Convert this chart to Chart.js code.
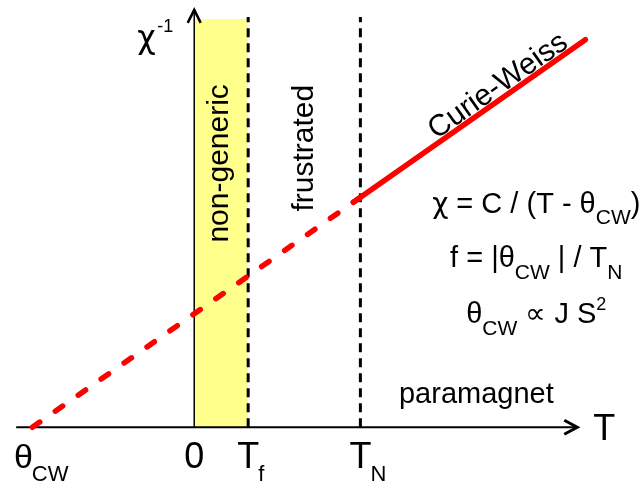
<!DOCTYPE html>
<html>
<head>
<meta charset="utf-8">
<script src="https://cdn.jsdelivr.net/npm/chart.js@4.4.1/dist/chart.umd.min.js"></script>
<style>
  html, body { margin: 0; padding: 0; background: #ffffff; }
  canvas { display: block; }
</style>
</head>
<body>
<canvas id="chart" width="642" height="484"></canvas>
<script>
// Characteristic temperatures on the T axis (arbitrary units)
const thetaCW = -30;
const tFreeze = 10;
const tNeel = 30.8;

// Extents of the drawn axes
const tAxisRange = [-33, 71];
const chiAxisTop = 110.4;
const bandTop = 108;
const markerTop = 108.5;

// Inverse susceptibility, extrapolated (dashed) and measured (solid) Curie-Weiss line
const cwExtrapT = [thetaCW, 30.8];
const cwExtrapChi = [0, 60.8];
const cwMeasuredT = [29.5, 72.5];
const cwMeasuredChi = [59.5, 102.5];

// Tick labels under the T axis
const tickValues = [thetaCW, 0, tFreeze, tNeel];
const tickMain = ['\u03B8', '0', 'T', 'T'];
const tickSub = ['CW', '', 'f', 'N'];

// Region names
const regionNames = ['non-generic', 'frustrated', 'paramagnet'];
const lineName = 'Curie-Weiss';

// Relations, written as runs of [text, 'n' | 'chi' | 'sub' | 'sup']
const relations = [
  [['\u03C7', 'chi'], [' = C / (T - \u03B8', 'n'], ['CW', 'sub'], [')', 'n']],
  [['f = |\u03B8', 'n'], ['CW', 'sub'], [' | / T', 'n'], ['N', 'sub']],
  [['\u03B8', 'n'], ['CW', 'sub'], [' \u221D J S', 'n'], ['2', 'sup']]
];

const FONT = '"Liberation Sans", Arial, Helvetica, sans-serif';
const GREEK = '"DejaVu Sans", "Liberation Sans", sans-serif';
const pts = (xs, ys) => xs.map((x, i) => ({ x: x, y: ys[i] }));

function font(size, fam) { return size + 'px ' + (fam || FONT); }

// Draws a run of normal / subscript / superscript pieces, centred on cx
function drawRuns(ctx, runs, cx, baseY, size) {
  const subSize = Math.round(size * 0.74);
  const supSize = Math.round(size * 0.62);
  const setFont = k => {
    if (k === 'n') ctx.font = font(size);
    else if (k === 'chi') ctx.font = font(size - 1, GREEK);
    else if (k === 'sub') ctx.font = font(subSize);
    else ctx.font = font(supSize);
  };
  const widths = runs.map(([t, k]) => { setFont(k); return ctx.measureText(t).width; });
  const total = widths.reduce((a, b) => a + b, 0);
  let x = cx - total / 2;
  runs.forEach(([t, k], i) => {
    setFont(k);
    const dy = k === 'sub' ? size * 0.4 : (k === 'sup' ? -size * 0.44 : 0);
    ctx.fillText(t, x, baseY + dy);
    x += widths[i];
  });
}

const annotations = {
  id: 'annotations',
  afterDatasetsDraw(chart) {
    const ctx = chart.ctx;
    const xs = chart.scales.x, ys = chart.scales.y;
    const px = v => xs.getPixelForValue(v);
    const py = v => ys.getPixelForValue(v);
    ctx.save();
    ctx.fillStyle = '#000';
    ctx.strokeStyle = '#000';

    // arrow heads
    ctx.lineWidth = 3;
    ctx.lineJoin = 'miter';
    const tx = px(tAxisRange[1]), ty = py(0);
    ctx.beginPath();
    ctx.moveTo(tx - 13, ty - 7);
    ctx.lineTo(tx, ty);
    ctx.lineTo(tx - 13, ty + 7);
    ctx.stroke();
    const cx0 = px(0), cy0 = py(chiAxisTop);
    ctx.lineWidth = 2.5;
    ctx.beginPath();
    ctx.moveTo(cx0 - 6.5, cy0 + 13);
    ctx.lineTo(cx0, cy0);
    ctx.lineTo(cx0 + 6.5, cy0 + 13);
    ctx.stroke();

    // axis titles
    ctx.textBaseline = 'alphabetic';
    ctx.textAlign = 'center';
    ctx.font = font(36);
    ctx.fillText('T', tx + 27, ty + 13);
    ctx.textAlign = 'left';
    ctx.font = font(32, GREEK);
    ctx.fillText('\u03C7', cx0 - 57, cy0 + 38);
    ctx.font = font(18);
    ctx.fillText('-1', cx0 - 37, cy0 + 22);

    // tick labels with subscripts
    tickValues.forEach((v, i) => {
      const main = tickMain[i];
      const size = main === '\u03B8' ? 34 : 36;
      const nudge = main === '\u03B8' ? -9 : 0;
      ctx.font = font(size);
      const w = ctx.measureText(main).width;
      const left = px(v) + nudge - w / 2;
      const base = py(0) + 41;
      ctx.textAlign = 'left';
      ctx.fillText(main, left, base);
      if (tickSub[i]) {
        ctx.font = font(22);
        ctx.fillText(tickSub[i], left + w - 1, base + 13);
      }
    });

    // region names
    ctx.font = font(30);
    ctx.textAlign = 'center';
    ctx.textBaseline = 'alphabetic';
    [[regionNames[0], 6.2, 69.8], [regionNames[1], 22.1, 73.8]].forEach(([t, x, y]) => {
      ctx.save();
      ctx.translate(px(x), py(y));
      ctx.rotate(-Math.PI / 2);
      ctx.fillText(t, 0, 0);
      ctx.restore();
    });
    ctx.font = font(29);
    ctx.fillText(regionNames[2], px(52.3), py(6.4));

    // label along the Curie-Weiss line
    const ang = Math.atan2(py(cwMeasuredChi[1]) - py(cwMeasuredChi[0]),
                           px(cwMeasuredT[1]) - px(cwMeasuredT[0]));
    ctx.save();
    ctx.translate(px(57.2), py(88.4));
    ctx.rotate(ang);
    ctx.font = font(30);
    ctx.fillText(lineName, 0, 0);
    ctx.restore();

    // relations
    ctx.textAlign = 'left';
    const baselines = [56.7, 42.4, 27.6];
    relations.forEach((runs, i) => drawRuns(ctx, runs, px(63.4), py(baselines[i]), 29));

    ctx.restore();
  }
};

new Chart(document.getElementById('chart'), {
  type: 'line',
  data: {
    datasets: [
      { // measured Curie-Weiss range
        data: pts(cwMeasuredT, cwMeasuredChi),
        borderColor: '#ff0000', borderWidth: 5.5, borderCapStyle: 'round', order: 1
      },
      { // extrapolation down to theta_CW
        data: pts(cwExtrapT, cwExtrapChi),
        borderColor: '#ff0000', borderWidth: 5.5, borderCapStyle: 'round',
        borderDash: [9, 19], order: 2
      },
      { // freezing temperature
        data: pts([tFreeze, tFreeze], [0, markerTop]),
        borderColor: '#000', borderWidth: 3, borderDash: [9, 6], order: 3
      },
      { // Neel temperature
        data: pts([tNeel, tNeel], [0, markerTop]),
        borderColor: '#000', borderWidth: 3, borderDash: [9, 6], order: 3
      },
      { // T axis
        data: pts(tAxisRange, [0, 0]),
        borderColor: '#000', borderWidth: 2, order: 4
      },
      { // chi^-1 axis
        data: pts([0, 0], [0, chiAxisTop]),
        borderColor: '#000', borderWidth: 1.5, order: 4
      },
      { // non-generic band between 0 and T_f
        data: pts([0, tFreeze], [bandTop, bandTop]),
        borderWidth: 0, backgroundColor: '#ffff8c', fill: 'origin', order: 6
      }
    ]
  },
  options: {
    responsive: false,
    animation: false,
    layout: { padding: 0 },
    elements: { point: { radius: 0 }, line: { tension: 0 } },
    plugins: { legend: { display: false }, tooltip: { enabled: false } },
    scales: {
      x: { type: 'linear', min: -36, max: 83, display: false },
      y: { type: 'linear', min: -15, max: 113, display: false }
    }
  },
  plugins: [annotations]
});
</script>
</body>
</html>
